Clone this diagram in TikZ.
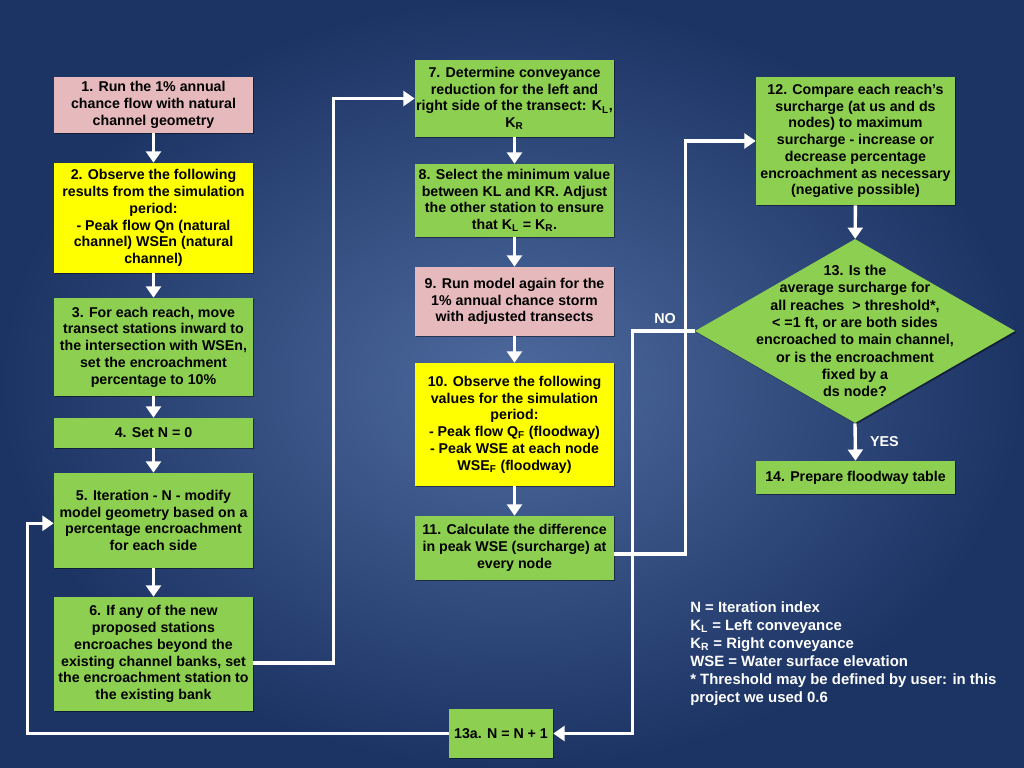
\documentclass[tikz,border=0pt]{standalone}
\usepackage{fontspec}
\setmainfont{Liberation Sans}
\usepackage{xcolor}
\usepackage{tikz}
\usetikzlibrary{shapes,shapes.geometric,arrows,arrows.meta,shadows,calc,positioning}

\definecolor{bgdark}{RGB}{28,52,100}
\definecolor{bglight}{RGB}{78,106,158}
\definecolor{boxpink}{RGB}{230,186,188}
\definecolor{boxyellow}{RGB}{255,255,0}
\definecolor{boxgreen}{RGB}{141,207,80}

\begin{document}
\begin{tikzpicture}[x=0.025cm,y=-0.025cm]
						\tikzstyle{box}=[rectangle, minimum width=4.975cm, inner xsep=0.3pt, inner ysep=2pt, align=center, font=\fontsize{10.1}{11.9}\selectfont\bfseries, drop shadow={shadow xshift=1pt, shadow yshift=-1pt, opacity=0.45, fill=black}]
						\tikzstyle{pinkbox}=[box, fill=boxpink]
						\tikzstyle{yellowbox}=[box, fill=boxyellow]
						\tikzstyle{greenbox}=[box, fill=boxgreen]
						\tikzstyle{decision}=[diamond, fill=boxgreen, minimum width=8cm, minimum height=4.6cm, inner sep=0pt, drop shadow={shadow xshift=1pt, shadow yshift=-1pt, opacity=0.45, fill=black}]
						\tikzstyle{link}=[draw=white, line width=2.4pt, -{Triangle[width=10.5pt,length=8pt]}]
						\tikzstyle{tag}=[text=white, font=\fontsize{10.2}{12}\selectfont\bfseries]
						% background
						\shade[inner color=bglight, outer color=bgdark] (0,0) rectangle (1024,768);
						\useasboundingbox (0,0) rectangle (1024,768);
						% left column
						\node[pinkbox, minimum height=1.4cm] (b1) at (153.5,105) {1. Run the 1\% annual\\chance flow with natural\\channel geometry};
						\node[yellowbox, minimum height=2.75cm] (b2) at (153.5,218) {2. Observe the following\\results from the simulation\\period:\\- Peak flow Qn (natural\\channel) WSEn (natural\\channel)};
						\node[greenbox, minimum height=2.45cm] (b3) at (153.5,347) {3. For each reach, move\\transect stations inward to\\the intersection with WSEn,\\set the encroachment\\percentage to 10\%};
						\node[greenbox, minimum height=0.75cm] (b4) at (153.5,433) {4. Set N = 0};
						\node[greenbox, minimum height=2.375cm] (b5) at (153.5,520.5) {5. Iteration - N - modify\\model geometry based on a\\percentage encroachment\\for each side};
						\node[greenbox, minimum height=2.85cm] (b6) at (153.5,654) {6. If any of the new\\proposed stations\\encroaches beyond the\\existing channel banks, set\\the encroachment station to\\the existing bank};
						% middle column
						\node[greenbox, minimum height=1.925cm] (b7) at (514.5,98.5) {7. Determine conveyance\\reduction for the left and\\right side of the transect: K\textsubscript{L},\\K\textsubscript{R}};
						\node[greenbox, minimum height=1.825cm] (b8) at (514.5,200.5) {8. Select the minimum value\\between KL and KR. Adjust\\the other station to ensure\\that K\textsubscript{L} = K\textsubscript{R}.};
						\node[pinkbox, minimum height=1.725cm] (b9) at (514.5,301.5) {9. Run model again for the\\1\% annual chance storm\\with adjusted transects};
						\node[yellowbox, minimum height=3.075cm] (b10) at (514.5,424.5) {10. Observe the following\\values for the simulation\\period:\\- Peak flow Q\textsubscript{F} (floodway)\\- Peak WSE at each node\\WSE\textsubscript{F} (floodway)};
						\node[greenbox, minimum height=1.6cm] (b11) at (514.5,548) {11. Calculate the difference\\in peak WSE (surcharge) at\\every node};
						\node[greenbox, minimum width=2.6cm, minimum height=1.225cm] (b13a) at (501,733.5) {13a. N = N + 1};
						% right column
						\node[greenbox, minimum height=3.2cm] (b12) at (855.5,141) {12. Compare each reach's\\surcharge (at us and ds\\nodes) to maximum\\surcharge - increase or\\decrease percentage\\encroachment as necessary\\(negative possible)};
						\node[decision, label={[align=center, font=\fontsize{10.2}{12.3}\selectfont\bfseries]center:13. Is the\\average surcharge for\\all reaches~~> threshold*,\\< =1 ft, or are both sides\\encroached to main channel,\\or is the encroachment\\fixed by a\\ds node?}] (q13) at (855,331) {};
						\node[greenbox, minimum height=0.825cm] (b14) at (855.5,477.5) {14. Prepare floodway table};
						% straight steps
						\foreach \a/\b in {b1/b2,b2/b3,b3/b4,b4/b5,b5/b6,b7/b8,b8/b9,b9/b10,b10/b11,b12/q13}
							\draw[link] (\a) -- (\b);
						% loops
						\draw[link] ([yshift=-6.4pt]b6.east) -- ++(80,0) |- (b7.west);
						\draw[link] ([yshift=-4.3pt]b11.east) -- ++(71,0) |- (b12.west);
						\draw[link] (q13.west) -- ++(-62,0) |- (b13a.east);
						\draw[link] (b13a.west) -- ++(-421,0) |- ([yshift=-2pt]b5.west);
						\draw[link] (q13.south) -- (b14.north) node[tag, midway, right=6pt] {YES};
						\node[tag] (no) at (665,319) {NO};
						% legend
						\node[tag, anchor=north west, align=left, inner sep=0pt, font=\fontsize{10.6}{12.8}\selectfont\bfseries] (key) at (690,601) {N = Iteration index\\K\textsubscript{L} = Left conveyance\\K\textsubscript{R} = Right conveyance\\WSE = Water surface elevation\\* Threshold may be defined by user: in this\\project we used 0.6};
					\end{tikzpicture}
\end{document}
